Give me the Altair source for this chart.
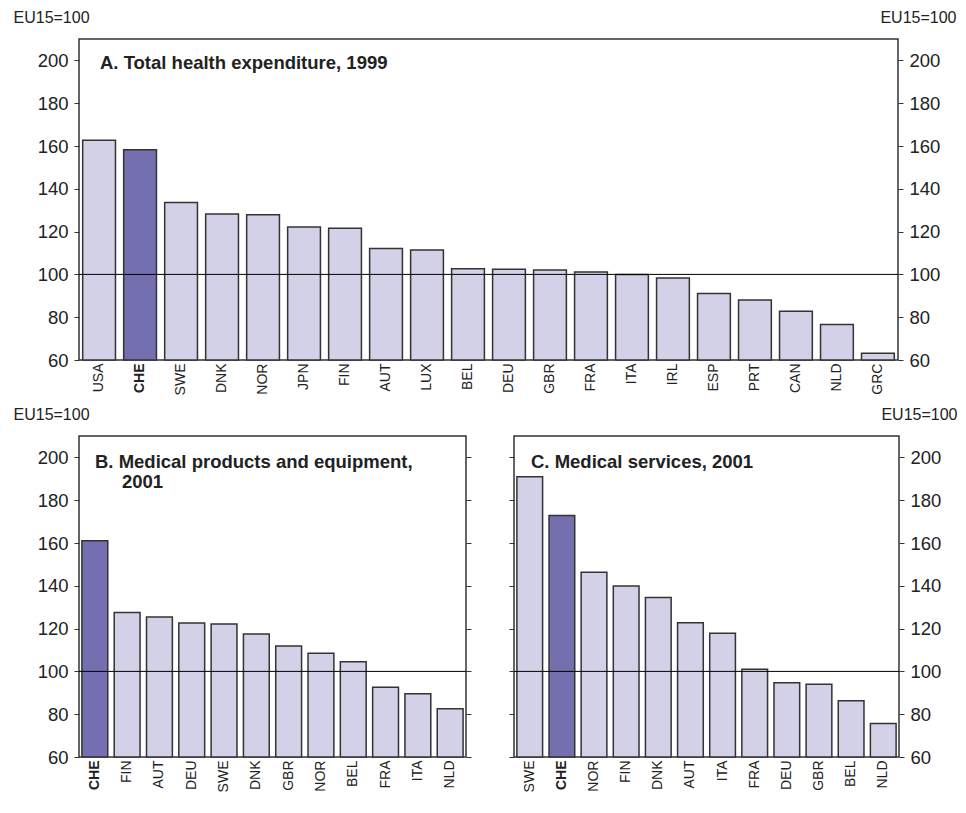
import altair as alt
import pandas as pd

# ---- data ----
a_countries = ["USA", "CHE", "SWE", "DNK", "NOR", "JPN", "FIN", "AUT", "LUX", "BEL",
               "DEU", "GBR", "FRA", "ITA", "IRL", "ESP", "PRT", "CAN", "NLD", "GRC"]
a_values = [162.7, 158.2, 133.6, 128.2, 127.9, 122.1, 121.6, 112.1, 111.4, 102.6,
            102.4, 102.0, 101.1, 99.9, 98.3, 91.1, 88.0, 82.8, 76.6, 63.1]

b_countries = ["CHE", "FIN", "AUT", "DEU", "SWE", "DNK", "GBR", "NOR", "BEL", "FRA", "ITA", "NLD"]
b_values = [161.0, 127.5, 125.4, 122.6, 122.2, 117.5, 111.9, 108.5, 104.5, 92.6, 89.5, 82.5]

c_countries = ["SWE", "CHE", "NOR", "FIN", "DNK", "AUT", "ITA", "FRA", "DEU", "GBR", "BEL", "NLD"]
c_values = [190.9, 172.9, 146.3, 139.9, 134.5, 122.7, 117.8, 101.0, 94.7, 94.0, 86.3, 75.7]

y_ticks = [60, 80, 100, 120, 140, 160, 180, 200]
reference = [100]
unit_label = "EU15=100"

LIGHT = "#D3D1E8"
DARK = "#7470B0"
EDGE = "#333333"
FONT = "Liberation Sans"

bold_che = {"condition": {"test": "datum.value == 'CHE'", "value": "bold"}, "value": "normal"}


def panel(countries, values, titles, width, height, left_labels, right_labels):
    df = pd.DataFrame({"country": countries, "value": values})
    yscale = alt.Scale(domain=[60, 210], nice=False, zero=False)

    left_axis = alt.Axis(
        orient="left", values=y_ticks, labels=left_labels, tickSize=5, tickColor=EDGE,
        labelFontSize=18.5, labelPadding=6, domain=False, grid=False,
        title=unit_label if left_labels else None,
        titleAngle=0, titleAlign="left", titleBaseline="alphabetic",
        titleX=-66, titleY=-17, titleFontSize=16, titleFontWeight="normal",
    )
    right_axis = alt.Axis(
        orient="right", values=y_ticks, labels=right_labels, tickSize=5, tickColor=EDGE,
        labelFontSize=18.5, labelPadding=6, domain=False, grid=False,
        title=unit_label if right_labels else None,
        titleAngle=0, titleAlign="right", titleBaseline="alphabetic",
        titleX=58, titleY=-17, titleFontSize=16, titleFontWeight="normal",
    )

    bars = alt.Chart(df).mark_bar(stroke=EDGE, strokeWidth=1.5).encode(
        x=alt.X("country:N", sort=None, title=None,
                scale=alt.Scale(paddingInner=0.2, paddingOuter=0.09),
                axis=alt.Axis(labelAngle=-90, labelFontSize=14, labelPadding=3,
                              ticks=False, domain=False, labelFontWeight=bold_che,
                              labelBaseline="middle", labelAlign="right")),
        y=alt.Y("value:Q", scale=yscale, axis=left_axis),
        y2=alt.datum(60),
        color=alt.condition("datum.country == 'CHE'", alt.value(DARK), alt.value(LIGHT)),
    )

    rule = alt.Chart(pd.DataFrame({"ref": reference})).mark_rule(
        color="#000000", strokeWidth=1
    ).encode(y=alt.Y("ref:Q", scale=yscale, axis=right_axis))

    layers = [bars, rule]
    for text, dx, dy in titles:
        layers.append(
            alt.Chart(alt.Data(values=[{}])).mark_text(
                text=text, align="left", baseline="alphabetic", fontSize=18.5,
                fontWeight="bold", font=FONT, color="#222222"
            ).encode(x=alt.value(dx), y=alt.value(dy))
        )

    return alt.layer(*layers).resolve_axis(y="independent").properties(
        width=width, height=height
    )


top = panel(a_countries, a_values, [("A. Total health expenditure, 1999", 21, 30)],
            819, 321, True, True)
pb = panel(b_countries, b_values,
           [("B. Medical products and equipment,", 16, 32), ("2001", 43, 52)],
           387, 321, True, False)
pc = panel(c_countries, c_values, [("C. Medical services, 2001", 17, 32)],
           385, 321, False, True)

chart = alt.vconcat(top, alt.hconcat(pb, pc, spacing=34), spacing=9).properties(
    padding={"left": 4, "top": 0, "right": 0, "bottom": 0}
).configure(font=FONT).configure_view(
    stroke=EDGE, strokeWidth=1.5
).configure_axis(labelColor="#222222", titleColor="#222222", labelFont=FONT, titleFont=FONT)

chart.save("out.html", embed_options={"renderer": "svg", "actions": False})
